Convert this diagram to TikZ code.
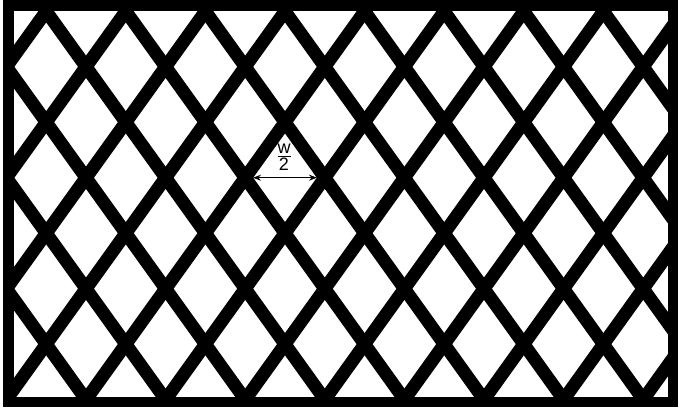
\documentclass[tikz,border=0pt]{standalone}
\usepackage{fontspec}
\setmainfont{Liberation Sans}
\usetikzlibrary{arrows.meta}
\tikzset{
  bar/.style={line width=13pt},
  frame/.style={line width=10.5pt},
  dim/.style={line width=1pt, {Stealth[length=8pt,width=6pt]}-{Stealth[length=8pt,width=6pt]}}
}

\begin{document}
\begin{tikzpicture}[x=1pt,y=-1pt]
\useasboundingbox (0,0) rectangle (680,408);
\begin{scope}
\clip (8.3,5.5) rectangle (673,402);
\foreach \k in {-3,...,11} {
  \draw[bar] ({6.4+79.6*\k-127.5},0) -- ({6.4+79.6*\k+165.2},408);
  \draw[bar] ({6.4+79.6*\k+127.5},0) -- ({6.4+79.6*\k-165.2},408);
}
\end{scope}
\draw[frame] (8.3,5.5) rectangle (673,402);
\coordinate (wl) at (253,177.7);
\coordinate (wr) at (317,177.7);
\draw[dim] (wl) -- (wr);
\node[inner sep=0pt, font=\fontsize{18}{19}\selectfont] (half) at (284,158)
  {\begin{tabular}{@{}c@{}}w\\[-3pt]\hline\rule{0pt}{14pt}2\end{tabular}};
\end{tikzpicture}
\end{document}
